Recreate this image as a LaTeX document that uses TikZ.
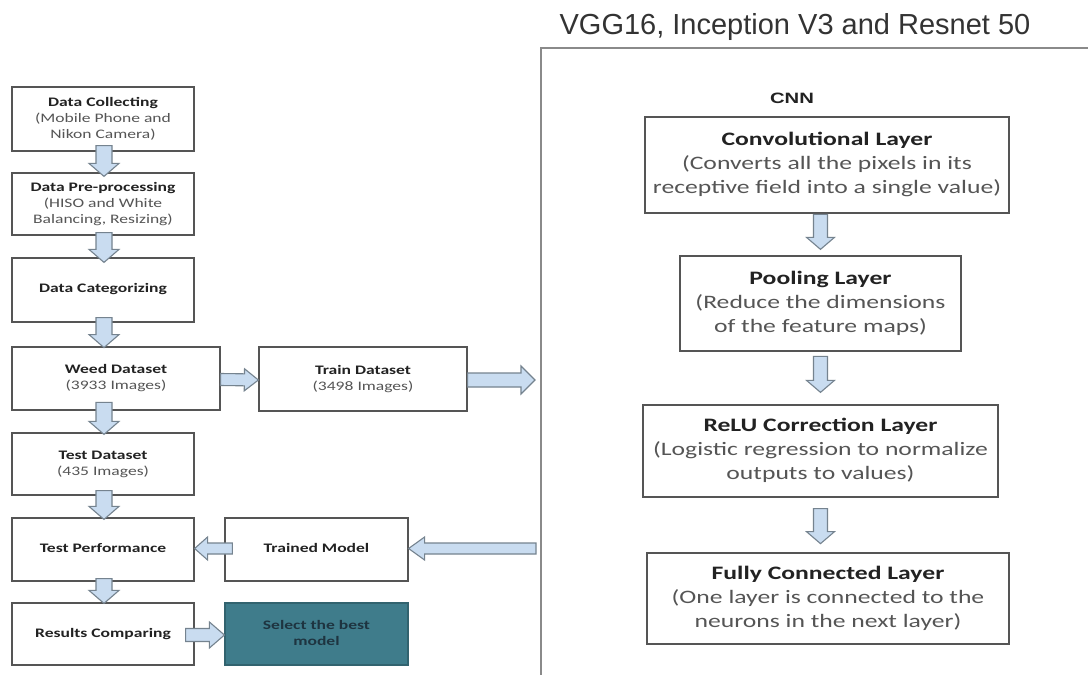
\documentclass[tikz,border=0pt]{standalone}
\usepackage{fontspec}
\setmainfont{Carlito}
\newfontfamily\arialfont{Liberation Sans}
\usetikzlibrary{calc}
\definecolor{boxline}{HTML}{555555}
\definecolor{arrfill}{HTML}{C9DCF0}
\definecolor{arrline}{HTML}{75838F}
\definecolor{selfill}{HTML}{3F7C8B}
\definecolor{seltext}{HTML}{1E3440}
\definecolor{subtxt}{HTML}{555555}
\definecolor{titletxt}{HTML}{222222}
\definecolor{headtxt}{HTML}{333333}
\definecolor{frameline}{HTML}{8A8A8A}
\newcommand{\stx}[1]{\scalebox{1.35}[1]{\begin{tabular}{@{}c@{}}#1\end{tabular}}}
\newcommand{\sbt}[1]{\textcolor{subtxt}{#1}}
% block arrow: from, to, half shaft, half head, head length
\newcommand{\barrow}[5]{%
  \draw[barr] let \p1=(#1), \p2=(#2),
    \n1={atan2(\y2-\y1,\x2-\x1)}, \n2={veclen(\x2-\x1,\y2-\y1)} in
    [shift={(\p1)}, rotate=\n1]
    (0,-#3) -- ({\n2-#5},-#3) -- ({\n2-#5},-#4) -- (\n2,0) --
    ({\n2-#5},#4) -- ({\n2-#5},#3) -- (0,#3) -- cycle;}
\tikzset{
  lbox/.style={draw=boxline, line width=1.2pt, fill=white, inner sep=0pt,
    text=titletxt, font=\fontsize{13}{16}\selectfont},
  rbox/.style={draw=boxline, line width=1.3pt, fill=white, inner sep=0pt,
    text=titletxt, font=\fontsize{19}{24}\selectfont},
  barr/.style={draw=arrline, fill=arrfill, line width=1.1pt, line join=miter},
}
\begin{document}
\begin{tikzpicture}[x=1pt,y=-1pt]
\useasboundingbox (0,0) rectangle (1088,675);
\fill[white] (0,0) rectangle (1088,675);

% frame
\coordinate (frameTL) at (541,48);
\draw[frameline, line width=1.5pt] (frameTL |- 0,675) -- (frameTL) -- (1088,48);
\node[text=headtxt, font=\arialfont\fontsize{29}{33}\selectfont] (title) at (795,27) {VGG16, Inception V3 and Resnet 50};
\node[text=titletxt] (cnn) at (792,98) {\scalebox{1.35}[1]{\arialfont\bfseries\fontsize{15}{18}\selectfont CNN}};

% left column
\node[lbox, minimum width=182, minimum height=64] (dc) at (103,119)
  {\stx{\textbf{Data Collecting}\\\sbt{(Mobile Phone and}\\\sbt{Nikon Camera)}}};
\node[lbox, minimum width=182, minimum height=62] (dp) at (103,204)
  {\stx{\textbf{Data Pre-processing}\\\sbt{(HISO and White}\\\sbt{Balancing, Resizing)}}};
\node[lbox, minimum width=182, minimum height=64] (dcat) at (103,290)
  {\raisebox{6pt}{\stx{\textbf{Data Categorizing}}}};
\node[lbox, minimum width=208, minimum height=63] (weed) at (116,378.5)
  {\stx{\textbf{Weed Dataset}\\\sbt{(3933 Images)}}};
\node[lbox, minimum width=182, minimum height=62] (test) at (103,464)
  {\stx{\textbf{Test Dataset}\\\sbt{(435 Images)}}};
\node[lbox, minimum width=182, minimum height=63] (tp) at (103,549.5)
  {\raisebox{5pt}{\stx{\textbf{Test Performance}}}};
\node[lbox, minimum width=182, minimum height=62] (rc) at (103,634)
  {\raisebox{-2pt}{\stx{\textbf{Results Comparing}}}};
\node[lbox, fill=selfill, draw=selfill!80!black, minimum width=183, minimum height=62, text=seltext] (sel) at (316.5,634)
  {\stx{\textbf{Select the best}\\\textbf{model}}};
\node[lbox, minimum width=183, minimum height=63] (trained) at (316.5,549.5)
  {\raisebox{6pt}{\stx{\textbf{Trained Model}}}};
\node[lbox, minimum width=208, minimum height=64] (train) at (363,379)
  {\stx{\textbf{Train Dataset}\\\sbt{(3498 Images)}}};

% right column
\node[rbox, minimum width=364, minimum height=96] (conv) at (827,165)
  {\raisebox{3pt}{\stx{\textbf{Convolutional Layer}\\\sbt{(Converts all the pixels in its}\\\sbt{receptive field into a single value)}}}};
\node[rbox, minimum width=281, minimum height=95] (pool) at (820.5,303.5)
  {\raisebox{3pt}{\stx{\textbf{Pooling Layer}\\\sbt{(Reduce the dimensions}\\\sbt{of the feature maps)}}}};
\node[rbox, minimum width=355, minimum height=92] (relu) at (820.5,451)
  {\raisebox{3pt}{\stx{\textbf{ReLU Correction Layer}\\\sbt{(Logistic regression to normalize}\\\sbt{outputs to values)}}}};
\node[rbox, minimum width=362, minimum height=91] (fc) at (828,598.5)
  {\raisebox{2pt}{\stx{\textbf{Fully Connected Layer}\\\sbt{(One layer is connected to the}\\\sbt{neurons in the next layer)}}}};

% left vertical arrows
\barrow{$(dc.south)+(1,-6)$}{$(dp.north)+(1,4)$}{8}{15}{13}
\barrow{$(dp.south)+(1,-3)$}{$(dcat.north)+(1,5)$}{8}{15}{13}
\barrow{$(dcat.south)+(1,-5)$}{$(dcat.south)+(1,25)$}{8}{15}{13}
\barrow{$(test.north)+(1,-30)$}{$(test.north)+(1,2)$}{8}{15}{13}
\barrow{$(test.south)+(1,-5)$}{$(tp.north)+(1,2)$}{8}{15}{13}
\barrow{$(tp.south)+(1,-3)$}{$(rc.north)+(1,1)$}{8}{15}{13}

% horizontal arrows
\barrow{$(weed.east)+(0,1)$}{$(train.west)+(0,1)$}{6}{11}{14}
\barrow{$(train.east)+(0,1)$}{$(train.east -| frameTL)+(-6,1)$}{7}{14}{14}
\barrow{$(trained.east -| frameTL)+(-5,-1)$}{$(trained.east)+(0,-1)$}{5.5}{11.5}{16}
\barrow{$(trained.west)+(8,-1)$}{$(tp.east)+(0,-1)$}{5.5}{11.5}{13}
\barrow{$(rc.east)+(-9,1)$}{$(sel.west)+(0,1)$}{6.5}{13}{15}

% CNN arrows
\barrow{$(pool.north)+(0,-41)$}{$(pool.north)+(0,-6)$}{7}{14}{12}
\barrow{$(relu.north)+(0,-48)$}{$(relu.north)+(0,-12)$}{7}{14}{12}
\barrow{$(relu.south)+(0,11)$}{$(relu.south)+(0,46)$}{7}{14}{12}
\end{tikzpicture}
\end{document}
